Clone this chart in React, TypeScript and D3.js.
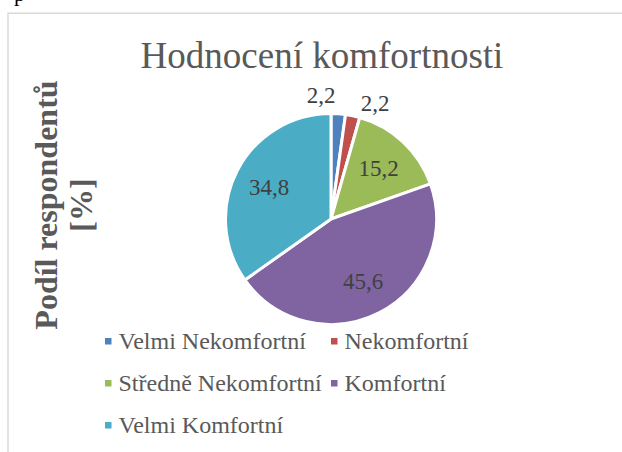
import React from "react";
import * as d3 from "d3";

const categories = ["Velmi Nekomfortní", "Nekomfortní", "Středně Nekomfortní", "Komfortní", "Velmi Komfortní"];
const values = [2.2, 2.2, 15.2, 45.6, 34.8];
const labelTexts = ["2,2", "2,2", "15,2", "45,6", "34,8"];
const colors = ["#4f81bd", "#c0504d", "#9bbb59", "#8064a2", "#4bacc6"];
const title = "Hodnocení komfortnosti";
const yTitle = ["Podíl respondentů", "[%]"];

const W = 622;
const H = 452;
const FONT = "Liberation Serif, DejaVu Serif, serif";
const serif: React.CSSProperties = { fontFamily: FONT };

export default function App() {
  const cx = 331;
  const cy = 219;
  const r = 105.5;
  const pie = d3.pie<number>().sort(null).value((d) => d);
  const arcs = pie(values);
  const arc = d3.arc<d3.PieArcDatum<number>>().innerRadius(0).outerRadius(r);
  const inner = d3.arc<d3.PieArcDatum<number>>().innerRadius(r * 0.66).outerRadius(r * 0.66);

  const outR = 124;
  const pos = arcs.map((a) => {
    const mid = (a.startAngle + a.endAngle) / 2;
    const small = a.endAngle - a.startAngle < 0.2;
    if (small) {
      return { x: Math.sin(mid) * outR, y: -Math.cos(mid) * outR, outside: true };
    }
    const [x, y] = inner.centroid(a);
    return { x, y, outside: false };
  });
  const minSep = 54;
  for (let i = 0; i < pos.length - 1; i++) {
    const a = pos[i];
    const b = pos[i + 1];
    if (a.outside && b.outside && b.x - a.x < minSep) {
      const m = (a.x + b.x) / 2;
      a.x = m - minSep / 2;
      b.x = m + minSep / 2;
      a.y = -Math.sqrt(outR * outR - a.x * a.x);
      b.y = -Math.sqrt(outR * outR - b.x * b.x);
    }
  }

  const legendRows = [0, 0, 1, 1, 2];
  const legendCols = [0, 1, 0, 1, 0];
  const colX = [105, 331];
  const rowY = [349, 391, 433];

  return (
    <svg
      width={W}
      height={H}
      style={{ position: "fixed", left: 0, top: 0, background: "#fff", fontFamily: FONT }}
    >
      <rect x={0} y={0} width={W} height={H} fill="#fff" />
      <text x={14} y={1} fontSize={22} fill="#000" style={serif}>p</text>
      <path d={`M8,${H + 10} V13.3 H${W + 10}`} fill="none" stroke="#d9d9d9" strokeWidth={1.4} />
      <text x={322} y={68} fontSize={37} fill="#595959" textAnchor="middle" style={serif}>
        {title}
      </text>
      <g transform="translate(57,205) rotate(-90)">
        <text x={0} y={0} fontSize={32} fontWeight="bold" fill="#595959" textAnchor="middle" style={serif}>
          {yTitle[0]}
        </text>
        <text x={0} y={35} fontSize={32} fontWeight="bold" fill="#595959" textAnchor="middle" style={serif}>
          {yTitle[1]}
        </text>
      </g>
      <g transform={`translate(${cx},${cy})`}>
        {arcs.map((a, i) => (
          <path key={i} d={arc(a) || ""} fill={colors[i]} stroke="#fff" strokeWidth={3} strokeLinejoin="round" />
        ))}
        {pos.map((p, i) => (
          <text
            key={i}
            x={p.x}
            y={p.y}
            dy="0.34em"
            fontSize={23}
            fill="#404040"
            textAnchor="middle"
            style={serif}
          >
            {labelTexts[i]}
          </text>
        ))}
      </g>
      <g>
        {categories.map((c, i) => (
          <g key={i}>
            <rect x={colX[legendCols[i]]} y={rowY[legendRows[i]] - 11} width={6.5} height={6.5} fill={colors[i]} />
            <text x={colX[legendCols[i]] + 13.5} y={rowY[legendRows[i]]} fontSize={24} fill="#595959" style={serif}>
              {c}
            </text>
          </g>
        ))}
      </g>
    </svg>
  );
}
